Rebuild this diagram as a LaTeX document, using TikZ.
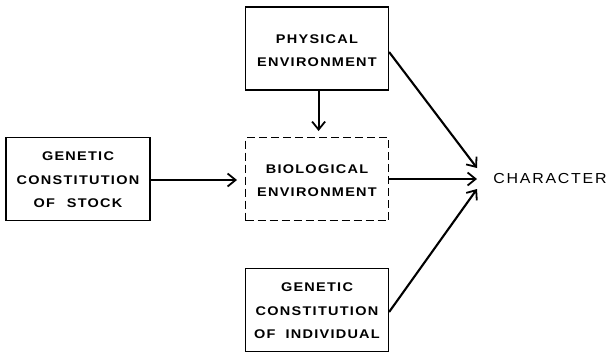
\documentclass[tikz,border=0pt]{standalone}
\usepackage{fontspec}
\usetikzlibrary{arrows.meta}
\newfontfamily\boxfont{Liberation Sans}[LetterSpace=10,FakeStretch=1.15]
\newfontfamily\charfont{Liberation Sans}[LetterSpace=12,FakeStretch=1.1]
\newcommand\myTopStrut[1]{\rule{0pt}{#1}}
\begin{document}
\begin{tikzpicture}[x=1pt,y=1pt,
  box/.style={draw=black,line width=1.2pt,minimum width=143pt,minimum height=83pt,inner sep=0pt,align=center,
    font=\boxfont\bfseries\fontsize{12.6}{23.5}\selectfont},
  dbox/.style={box,dash pattern=on 8pt off 4pt},
  conn/.style={line width=2.1pt,-{Straight Barb[length=8pt,width=13pt,line width=1.8pt]}}]
\useasboundingbox (0,0) rectangle (608,-357);
\node[box] (phys) at (317,-48.5) {\myTopStrut{13.5pt}PHYSICAL\\ENVIRONMENT};
\node[dbox] (bio) at (317,-179) {\myTopStrut{12pt}BIOLOGICAL\\ENVIRONMENT};
\node[box,minimum width=144pt] (stock) at (78,-179) {\myTopStrut{11pt}GENETIC\\CONSTITUTION\\OF\hspace{12pt}STOCK};
\node[box] (indiv) at (317,-310) {\myTopStrut{11pt}GENETIC\\CONSTITUTION\\OF\hspace{10pt}INDIVIDUAL};
\node[font=\charfont\fontsize{14.5}{15}\selectfont,inner sep=0pt] (char) at (550,-179) {CHARACTER};
\coordinate (t1) at (477,-168);
\coordinate (t2) at (477,-179);
\coordinate (t3) at (477,-189);
\coordinate (tb) at (318.6,-131);
\coordinate (ts) at (237,-180);
\draw[conn] ([yshift=-3.5pt]phys.east) -- (t1);
\draw[conn] (bio.east) -- (t2);
\draw[conn] ([yshift=-2pt]indiv.east) -- (t3);
\draw[conn] (phys.south -| tb) -- (tb);
\draw[conn] (stock.east |- ts) -- (ts);
\end{tikzpicture}
\end{document}
